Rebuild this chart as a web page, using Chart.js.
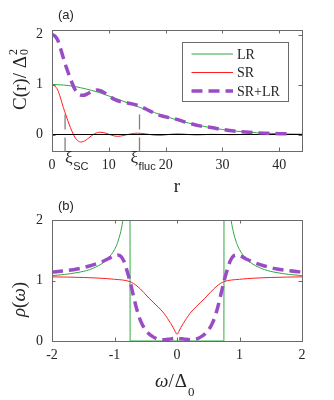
<!DOCTYPE html>
<html>
<head>
<meta charset="utf-8">
<script src="https://cdn.jsdelivr.net/npm/chart.js@4.4.0/dist/chart.umd.min.js"></script>
<style>
html, body { margin: 0; padding: 0; background: #fff; }
#wrap { position: relative; width: 334px; height: 400px; }
canvas { position: absolute; left: 0; }
#chartA { top: 0; }
#chartB { top: 200px; }
</style>
</head>
<body>
<div id="wrap">
<canvas id="chartA" width="334" height="200"></canvas>
<canvas id="chartB" width="334" height="200"></canvas>
</div>
<script>
// panel (a): correlation C(r)
const rLR = [0, 2, 4, 6, 8, 10, 12, 14, 16, 18, 20, 22, 24, 26, 28, 30, 32, 34, 36, 38, 40, 42, 44];
const cLR = [1.0, 0.99, 0.96, 0.91, 0.85, 0.77, 0.69, 0.60, 0.52, 0.44, 0.36, 0.29, 0.23, 0.18, 0.135, 0.10, 0.072, 0.05, 0.035, 0.024, 0.016, 0.01, 0.006];

const rSR = [0, 0.5, 1, 1.5, 2, 2.5, 3, 3.5, 4, 4.5, 5, 5.5, 6, 6.5, 7, 7.5, 8, 8.5, 9, 9.5, 10, 10.5, 11, 11.5, 12, 12.5, 13,
  14, 15, 16, 17, 18, 19, 20, 21, 22, 23, 24, 25, 26, 27, 28, 30, 32, 34, 36, 38, 40, 42, 44];
const cSR = [1.0, 0.97, 0.89, 0.73, 0.54, 0.37, 0.21, 0.07, -0.05, -0.12, -0.15, -0.14, -0.11, -0.065, -0.02, 0.015, 0.038, 0.045, 0.04, 0.025,
  0.005, -0.015, -0.03, -0.036, -0.032, -0.022, -0.008,
  0.015, 0.026, 0.02, 0.003, -0.012, -0.016, -0.007, 0.006, 0.012, 0.009, 0.0, -0.007, -0.007, -0.001, 0.004,
  0.0, -0.003, 0.002, 0.0, -0.001, 0.001, 0.0, 0.0];

const rSum = [0, 0.5, 1, 1.5, 2, 2.5, 3, 3.5, 4, 4.5, 5, 5.5, 6, 6.5, 7, 7.5, 8, 8.5, 9, 9.5, 10,
  11, 12, 13, 14, 15, 16, 17, 18, 19, 20, 22, 24, 26, 28, 30, 32, 34, 36, 38, 40, 42];
const cSum = [2.0, 1.97, 1.89, 1.72, 1.53, 1.35, 1.19, 1.04, 0.91, 0.83, 0.79, 0.785, 0.80, 0.83, 0.86, 0.88, 0.888, 0.875, 0.85, 0.815, 0.775,
  0.70, 0.658, 0.637, 0.615, 0.586, 0.54, 0.483, 0.428, 0.384, 0.353, 0.302, 0.23, 0.173, 0.139, 0.10, 0.069, 0.052, 0.035, 0.023, 0.017, 0.012];

const markerR = [2.3, 15.4];
const markerC = [0.4, -0.33];
const xTicksA = [0, 10, 20, 30, 40];
const yTicksA = [0, 1, 2];

// panel (b): density of states rho(omega)
const wLR = [-2, -1.8, -1.6, -1.4, -1.2, -1.1, -1.0, -0.95, -0.9, -0.87, -0.85, -0.82, -0.79, -0.77, -0.755, -0.75,
  0.75, 0.755, 0.77, 0.79, 0.82, 0.85, 0.87, 0.9, 0.95, 1.0, 1.1, 1.2, 1.4, 1.6, 1.8, 2];
const dLR = [1.08, 1.10, 1.13, 1.18, 1.28, 1.37, 1.51, 1.63, 1.81, 1.97, 2.12, 2.45, 3.2, 4.3, 8.0, 0,
  0, 8.0, 4.3, 3.2, 2.45, 2.12, 1.97, 1.81, 1.63, 1.51, 1.37, 1.28, 1.18, 1.13, 1.10, 1.08];

const wSR = [-2, -1.5, -1.0, -0.75, -0.64, -0.53, -0.45, -0.37, -0.3, -0.21, -0.15, -0.1, -0.06, -0.03, 0,
  0.03, 0.06, 0.1, 0.15, 0.21, 0.3, 0.37, 0.45, 0.53, 0.64, 0.75, 1.0, 1.5, 2];
const dSR = [1.06, 1.05, 1.02, 0.98, 0.91, 0.80, 0.71, 0.63, 0.56, 0.46, 0.37, 0.29, 0.22, 0.16, 0.11,
  0.16, 0.22, 0.29, 0.37, 0.46, 0.56, 0.63, 0.71, 0.80, 0.91, 0.98, 1.02, 1.05, 1.06];

const wSum = [-2, -1.8, -1.6, -1.4, -1.2, -1.1, -1.0, -0.95, -0.9, -0.85, -0.8, -0.75, -0.7, -0.65, -0.6, -0.55, -0.5, -0.45, -0.4, -0.35, -0.3, -0.25, -0.2, -0.1, 0,
  0.1, 0.2, 0.25, 0.3, 0.35, 0.4, 0.45, 0.5, 0.55, 0.6, 0.65, 0.7, 0.75, 0.8, 0.85, 0.9, 0.95, 1.0, 1.1, 1.2, 1.4, 1.6, 1.8, 2];
const dSum = [1.14, 1.16, 1.19, 1.24, 1.31, 1.36, 1.41, 1.42, 1.40, 1.32, 1.16, 0.98, 0.76, 0.55, 0.38, 0.26, 0.18, 0.12, 0.08, 0.05, 0.03, 0.02, 0.02, 0.035, 0.045,
  0.035, 0.02, 0.02, 0.03, 0.05, 0.08, 0.12, 0.18, 0.26, 0.38, 0.55, 0.76, 0.98, 1.16, 1.32, 1.40, 1.42, 1.41, 1.36, 1.31, 1.24, 1.19, 1.16, 1.14];

const xTicksB = [-2, -1, 0, 1, 2];
const yTicksB = [0, 1, 2];

const legendLabels = ['LR', 'SR', 'SR+LR'];

const SERIF = "'Liberation Serif', 'Times New Roman', serif";
const SANS = "'Liberation Sans', Arial, sans-serif";
const FRAME = '#6a6a6a';
const TEXT = '#262626';
const GREEN = '#2fa83e';
const RED = '#ff1f1f';
const PURPLE = '#9a4cc6';
const DASH = [11, 6];

function xy(xs, ys) {
    return xs.map((x, i) => ({ x: x, y: ys[i] }));
}

function lineSet(label, xs, ys, color, width, order, dash) {
    return {
        label: label,
        data: xy(xs, ys),
        borderColor: color,
        borderWidth: width,
        borderDash: dash || [],
        pointRadius: 0,
        fill: false,
        cubicInterpolationMode: 'monotone',
        order: order
    };
}

function axis(min, max, ticks, fitSize, isX) {
    return {
        type: 'linear',
        min: min,
        max: max,
        afterBuildTicks: s => { s.ticks = ticks.map(v => ({ value: v })); },
        afterFit: s => { if (isX) s.height = fitSize; else s.width = fitSize; },
        grid: { display: false, drawTicks: false },
        border: { display: false },
        ticks: {
            font: { family: SERIF, size: 14 },
            color: TEXT,
            padding: isX ? 6 : 9,
            maxRotation: 0,
            autoSkip: false,
            callback: v => String(v)
        }
    };
}

// box round the plot with inward ticks on all four sides
const framePlugin = {
    id: 'frame',
    afterDatasetsDraw(chart) {
        const { ctx, chartArea: a, scales } = chart;
        const t = 3.5;
        ctx.save();
        ctx.strokeStyle = FRAME;
        ctx.lineWidth = 1;
        ctx.beginPath();
        scales.x.ticks.forEach(tk => {
            const p = Math.round(scales.x.getPixelForValue(tk.value)) + 0.5;
            ctx.moveTo(p, a.bottom); ctx.lineTo(p, a.bottom - t);
            ctx.moveTo(p, a.top); ctx.lineTo(p, a.top + t);
        });
        scales.y.ticks.forEach(tk => {
            const p = Math.round(scales.y.getPixelForValue(tk.value)) + 0.5;
            ctx.moveTo(a.left, p); ctx.lineTo(a.left + t, p);
            ctx.moveTo(a.right, p); ctx.lineTo(a.right - t, p);
        });
        ctx.stroke();
        ctx.strokeRect(Math.round(a.left) + 0.5, Math.round(a.top) + 0.5,
            Math.round(a.right - a.left), Math.round(a.bottom - a.top));
        ctx.restore();
    }
};

const textsA = {
    id: 'textsA',
    afterDraw(chart) {
        const { ctx, scales, chartArea: a } = chart;
        ctx.save();
        ctx.fillStyle = TEXT;
        ctx.textBaseline = 'alphabetic';

        ctx.font = '13px ' + SANS;
        ctx.fillText('(a)', 58, 19);

        // x label
        ctx.font = '19px ' + SERIF;
        ctx.textAlign = 'center';
        ctx.fillText('r', (a.left + a.right) / 2, 192);

        // xi labels under the markers
        ctx.textAlign = 'left';
        const offs = [0, -9];
        const subs = ['SC', 'fluc'];
        markerR.forEach((r, i) => {
            const px = scales.x.getPixelForValue(r) + offs[i];
            ctx.font = '17px ' + SERIF;
            ctx.fillText('ξ', px, 163);
            const w = ctx.measureText('ξ').width;
            ctx.font = '11px ' + SANS;
            ctx.fillText(subs[i], px + w + 0.5, 170);
        });

        // y label, rotated
        ctx.translate(25.5, 110);
        ctx.rotate(-Math.PI / 2);
        ctx.font = '19px ' + SERIF;
        ctx.fillText('C(r)/ Δ', 0, 0);
        const w = ctx.measureText('C(r)/ Δ').width;
        ctx.font = '12px ' + SERIF;
        ctx.fillText('2', w + 1, -9);
        ctx.fillText('0', w + 1, 2);
        ctx.restore();

        // legend
        const lx = 182.5, ly = 42.5, lw = 106, lh = 59;
        ctx.save();
        ctx.fillStyle = '#fff';
        ctx.fillRect(lx, ly, lw, lh);
        ctx.strokeStyle = FRAME;
        ctx.lineWidth = 1;
        ctx.strokeRect(lx, ly, lw, lh);
        const rows = [54, 72.5, 91];
        const sets = [chart.data.datasets[0], chart.data.datasets[1], chart.data.datasets[2]];
        sets.forEach((ds, i) => {
            ctx.beginPath();
            ctx.strokeStyle = ds.borderColor;
            ctx.lineWidth = ds.borderWidth;
            ctx.setLineDash(ds.borderDash || []);
            ctx.moveTo(191.5, rows[i]);
            ctx.lineTo(233, rows[i]);
            ctx.stroke();
            ctx.setLineDash([]);
            ctx.fillStyle = TEXT;
            ctx.font = '14px ' + SERIF;
            ctx.textBaseline = 'middle';
            ctx.fillText(legendLabels[i], 237, rows[i] + 1);
        });
        ctx.restore();
    }
};

const textsB = {
    id: 'textsB',
    afterDraw(chart) {
        const { ctx, chartArea: a } = chart;
        ctx.save();
        ctx.fillStyle = TEXT;
        ctx.textBaseline = 'alphabetic';

        ctx.font = '13px ' + SANS;
        ctx.fillText('(b)', 58, 10);

        // x label: omega / Delta_0
        let x = 155;
        const yb = 187;
        ctx.font = 'italic 19px ' + SERIF;
        ctx.fillText('ω', x, yb);
        x += ctx.measureText('ω').width;
        ctx.font = '19px ' + SERIF;
        ctx.fillText('/', x, yb);
        x += ctx.measureText('/').width + 1;
        ctx.fillText('Δ', x, yb);
        x += ctx.measureText('Δ').width + 1;
        ctx.font = '13px ' + SERIF;
        ctx.fillText('0', x, yb + 9);

        // y label rho(omega), rotated
        ctx.translate(25, 117);
        ctx.rotate(-Math.PI / 2);
        let u = 0;
        const parts = [['ρ', true], ['(', false], ['ω', true], [')', false]];
        parts.forEach(p => {
            ctx.font = (p[1] ? 'italic ' : '') + '19px ' + SERIF;
            ctx.fillText(p[0], u, 0);
            u += ctx.measureText(p[0]).width;
        });
        ctx.restore();
    }
};

function initChartA() {
    const ctx = document.getElementById('chartA').getContext('2d');
    new Chart(ctx, {
        type: 'line',
        data: {
            datasets: [
                lineSet('LR', rLR, cLR, GREEN, 1, 3),
                lineSet('SR', rSR, cSR, RED, 1, 2),
                lineSet('SR+LR', rSum, cSum, PURPLE, 3.5, 0, DASH),
                lineSet('zero', [0, 44], [0, 0], '#000', 1, 1),
                lineSet('xiSC', [markerR[0], markerR[0]], markerC, '#808080', 1.3, 4, [15, 8]),
                lineSet('xiFluc', [markerR[1], markerR[1]], markerC, '#808080', 1.3, 4, [15, 8])
            ]
        },
        options: {
            responsive: false,
            devicePixelRatio: 1,
            animation: false,
            layout: { padding: { top: 30, right: 32, left: 0, bottom: 0 } },
            plugins: { legend: { display: false }, tooltip: { enabled: false } },
            scales: {
                x: axis(0, 44, xTicksA, 49, true),
                y: axis(-0.33, 2.09, yTicksA, 52, false)
            }
        },
        plugins: [framePlugin, textsA]
    });
}

function initChartB() {
    const ctx = document.getElementById('chartB').getContext('2d');
    new Chart(ctx, {
        type: 'line',
        data: {
            datasets: [
                lineSet('LR', wLR, dLR, GREEN, 1, 2),
                lineSet('SR', wSR, dSR, RED, 1, 1),
                lineSet('SR+LR', wSum, dSum, PURPLE, 3.5, 0, DASH)
            ]
        },
        options: {
            responsive: false,
            devicePixelRatio: 1,
            animation: false,
            layout: { padding: { top: 20, right: 32, left: 0, bottom: 0 } },
            plugins: { legend: { display: false }, tooltip: { enabled: false } },
            scales: {
                x: axis(-2, 2, xTicksB, 59, true),
                y: axis(0, 2, yTicksB, 52, false)
            }
        },
        plugins: [framePlugin, textsB]
    });
}

initChartA();
initChartB();
</script>
</body>
</html>
